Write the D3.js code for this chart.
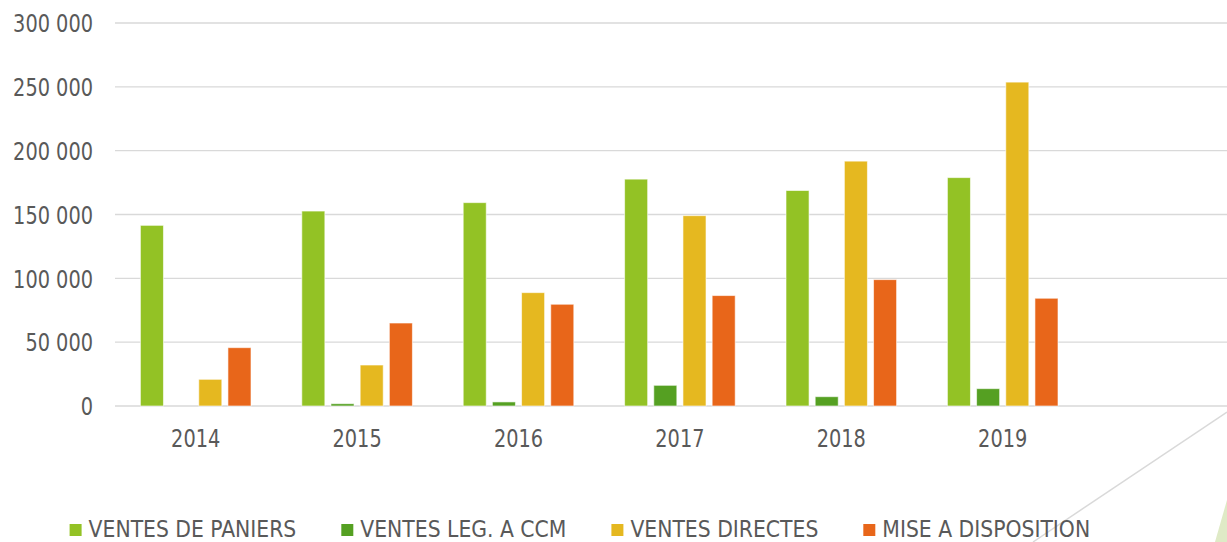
<!DOCTYPE html>
<html>
<head>
<meta charset="utf-8">
<script src="https://cdn.jsdelivr.net/npm/d3@7"></script>
<style>
	html, body { margin: 0; padding: 0; background: #fff; }
	svg { display: block; }
	text { font-family: "DejaVu Sans Condensed", "DejaVu Sans", sans-serif; font-stretch: condensed; fill: #595959; }
</style>
</head>
<body>
<div id="chart"></div>
<script>
// categories
var years = ["2014", "2015", "2016", "2017", "2018", "2019"];
// series names, in draw order
var series = ["VENTES DE PANIERS", "VENTES LEG. A CCM", "VENTES DIRECTES", "MISE A DISPOSITION"];
var colors = ["#93c225", "#55a022", "#e5b820", "#e8661a"];
// values
var paniers    = [141500, 152700, 159300, 177700, 168800, 178900];
var leg_ccm    = [0, 1800, 3200, 16200, 7300, 13600];
var directes   = [20900, 32100, 88800, 149100, 191800, 253700];
var mise_dispo = [45700, 65000, 79700, 86500, 99000, 84400];
// y tick values
var yTicks = [0, 50000, 100000, 150000, 200000, 250000, 300000];

var values = [paniers, leg_ccm, directes, mise_dispo];

var width = 1227, height = 542;
var padding = { top: 23, bottom: 136, left: 115 };
var step = 161.4;
var fontSize = 25, squash = 0.86;

var svg = d3.select("#chart").append("svg")
	.attr("width", width)
	.attr("height", height);
var g = svg.append("g");

var scaleY = d3.scaleLinear().domain([0, 300000]).range([height - padding.bottom, padding.top]);
var scaleX = d3.scaleBand().domain(years).range([padding.left, padding.left + years.length * step]);
var scaleSub = d3.scaleBand().domain(series).range([25.4, step - 25.4]).paddingInner(0.21);

var fmt = function(v){ return d3.format(",")(v).replace(/,/g, " "); };

// slide decoration, bottom right
g.append("path")
	.attr("d", "M1227,412 L1033,542")
	.style("stroke", "#d9d9d9")
	.style("stroke-width", 1.5)
	.style("fill", "none");
g.append("path")
	.attr("d", "M1227,500 L1215,542 L1227,542 Z")
	.style("fill", "#dfeac6");

// grid lines
g.selectAll(".grid").data(yTicks).enter()
	.append("line")
	.attr("class", "grid")
	.attr("x1", padding.left)
	.attr("x2", width)
	.attr("y1", function(d){ return scaleY(d); })
	.attr("y2", function(d){ return scaleY(d); })
	.style("stroke", "#d9d9d9")
	.style("stroke-width", 1.4);

// y labels
g.selectAll(".y_label").data(yTicks).enter()
	.append("text")
	.attr("class", "y_label")
	.attr("transform", function(d){ return "translate(93," + (scaleY(d) + 9.2) + ") scale(" + squash + ",1)"; })
	.style("text-anchor", "end")
	.style("font-size", fontSize + "px")
	.text(fmt);

// bars
var groups = g.selectAll(".year_group").data(years).enter()
	.append("g")
	.attr("class", "year_group")
	.attr("transform", function(d){ return "translate(" + scaleX(d) + ",0)"; });

groups.selectAll("rect")
	.data(function(d, i){
		return series.map(function(s, k){ return { serie: s, k: k, value: values[k][i] }; });
	})
	.enter()
	.append("rect")
	.filter(function(d){ return d.value > 0; })
	.attr("x", function(d){ return scaleSub(d.serie); })
	.attr("y", function(d){ return scaleY(d.value); })
	.attr("width", scaleSub.bandwidth())
	.attr("height", function(d){ return scaleY(0) - scaleY(d.value); })
	.style("fill", function(d){ return colors[d.k]; })
	.style("stroke", "#ffffff")
	.style("stroke-opacity", 0.6)
	.style("stroke-width", 1);

// x labels
g.selectAll(".x_label").data(years).enter()
	.append("text")
	.attr("class", "x_label")
	.attr("transform", function(d){ return "translate(" + (scaleX(d) + step / 2) + ",447) scale(" + squash + ",1)"; })
	.style("text-anchor", "middle")
	.style("font-size", fontSize + "px")
	.text(function(d){ return d; });

// legend, kept just inside the bottom edge
var legSquash = 0.985;
var lx = 69.6;
series.forEach(function(s, k){
	g.append("rect")
		.attr("x", lx)
		.attr("y", 524)
		.attr("width", 12)
		.attr("height", 12)
		.style("fill", colors[k]);
	var t = g.append("text")
		.attr("transform", "translate(" + (lx + 19) + ",536.5) scale(" + legSquash + ",1)")
		.style("font-size", "23px")
		.text(s);
	lx += 19 + t.node().getComputedTextLength() * legSquash + 45;
});
</script>
</body>
</html>
